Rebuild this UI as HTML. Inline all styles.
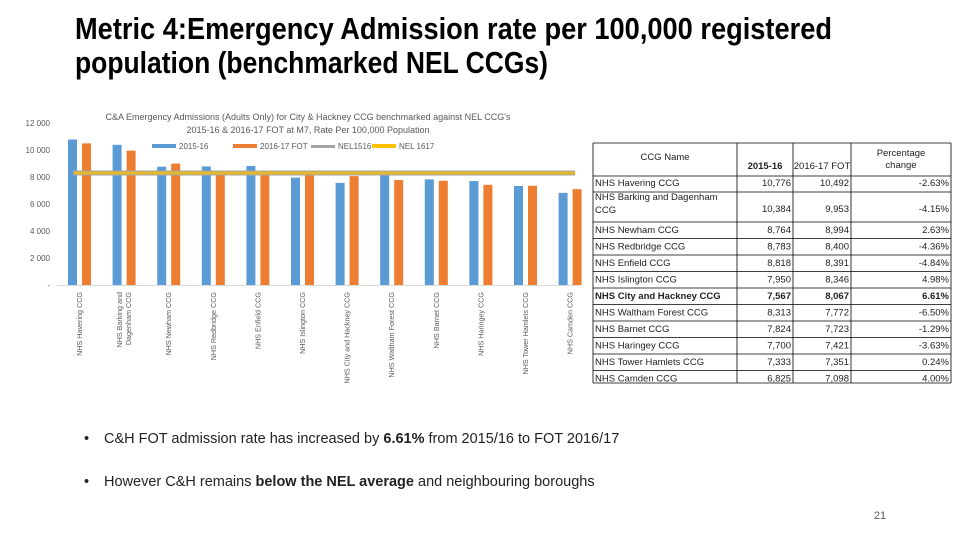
<!DOCTYPE html>
<html><head><meta charset="utf-8"><style>
html,body{margin:0;padding:0;background:#fff;}
svg{display:block;font-family:"Liberation Sans Narrow","Liberation Sans",sans-serif;}
</style></head><body>
<svg id="s" width="960" height="540" viewBox="0 0 960 540" xmlns="http://www.w3.org/2000/svg">
<text x="75" y="39" font-size="31" font-weight="bold" textLength="757" lengthAdjust="spacingAndGlyphs">Metric 4:Emergency Admission rate per 100,000 registered</text>
<text x="75" y="73" font-size="31" font-weight="bold" textLength="473" lengthAdjust="spacingAndGlyphs">population (benchmarked NEL CCGs)</text>
<text x="308" y="120" font-size="9" fill="#595959" text-anchor="middle">C&amp;A Emergency Admissions (Adults Only) for City &amp; Hackney CCG benchmarked against NEL CCG's</text>
<text x="308" y="133" font-size="9" fill="#595959" text-anchor="middle">2015-16 &amp; 2016-17 FOT at M7, Rate Per 100,000 Population</text>
<g font-size="8" fill="#595959">
<rect x="152" y="144" width="24" height="4" fill="#5b9bd5"/><text x="179" y="149">2015-16</text>
<rect x="233" y="144" width="24" height="4" fill="#ed7d31"/><text x="260" y="149">2016-17 FOT</text>
<rect x="311" y="145" width="24" height="3" fill="#a5a5a5"/><text x="338" y="149">NEL1516</text>
<rect x="372" y="144" width="24" height="4" fill="#ffc000"/><text x="399" y="149">NEL 1617</text>
</g>
<g id="chart"></g>
<g id="table"></g>
<g font-family="Liberation Sans, sans-serif" font-size="14.5" fill="#222">
<text x="84" y="443">•</text><text x="104" y="443">C&amp;H FOT admission rate has increased by <tspan font-weight="bold">6.61%</tspan> from 2015/16 to FOT 2016/17</text>
</g>
<g font-family="Liberation Sans, sans-serif" font-size="14.5" fill="#222">
<text x="84" y="486">•</text><text x="104" y="486">However C&amp;H remains <tspan font-weight="bold">below the NEL average</tspan> and neighbouring boroughs</text>
</g>
<text x="880" y="519" font-size="11" fill="#595959" text-anchor="middle">21</text>
</svg>
<script>
const categories=["NHS Havering CCG","NHS Barking and Dagenham CCG","NHS Newham CCG","NHS Redbridge CCG","NHS Enfield CCG","NHS Islington CCG","NHS City and Hackney CCG","NHS Waltham Forest CCG","NHS Barnet CCG","NHS Haringey CCG","NHS Tower Hamlets CCG","NHS Camden CCG"];
const v1516=[10776,10384,8764,8783,8818,7950,7567,8313,7824,7700,7333,6825];
const v1617=[10492,9953,8994,8400,8391,8346,8067,7772,7723,7421,7351,7098];
const pctChange=["-2.63%","-4.15%","2.63%","-4.36%","-4.84%","4.98%","6.61%","-6.50%","-1.29%","-3.63%","0.24%","4.00%"];
const nel1516=8300;
const nel1617=8300;
const yTicks=[0,2000,4000,6000,8000,10000,12000];
const yTickLabels=["-","2 000","4 000","6 000","8 000","10 000","12 000"];
const NS="http://www.w3.org/2000/svg";
const chart=document.getElementById('chart');
function y(v){return 285-v*162/12000;}
function xg(i){return 79.5+i*44.6;}
function mk(t,a,p){const e=document.createElementNS(NS,t);for(const k in a)e.setAttribute(k,a[k]);(p||chart).appendChild(e);return e;}
yTicks.forEach((t,i)=>{const e=mk('text',{x:50,y:y(t)+3,'font-size':8,fill:'#595959','text-anchor':'end'});e.textContent=yTickLabels[i];

});
const ax=mk('line',{x1:57,x2:580,y1:285.5,y2:285.5,stroke:'#d9d9d9'});


categories.forEach((c,i)=>{
 const cx=xg(i);
 const b=mk('rect',{x:cx-11.5,y:y(v1516[i]),width:9,height:285-y(v1516[i]),fill:'#5b9bd5'});
 
 
 const o=mk('rect',{x:cx+2.5,y:y(v1617[i]),width:9,height:285-y(v1617[i]),fill:'#ed7d31'});
 
 
 const lines=c==="NHS Barking and Dagenham CCG"?["NHS Barking and","Dagenham CCG"]:[c];
 lines.forEach((ln,j)=>{
  const tx=cx+2.5+(lines.length>1?(j-0.5)*9:0);
  const t=mk('text',{x:0,y:0,'font-size':7.2,fill:'#595959','text-anchor':'end',transform:`translate(${tx},292) rotate(-90)`});
  t.textContent=ln;
  
  
 });
});
const g=mk('line',{x1:xg(0)-6,x2:xg(11)+5,y1:y(nel1516),y2:y(nel1516),stroke:'#a5a5a5','stroke-width':5});


const yl=mk('line',{x1:xg(0)-6,x2:xg(11)+5,y1:y(nel1617),y2:y(nel1617),stroke:'#e6b92a','stroke-width':3});


// table
const tb=document.getElementById('table');
const X0=593,X1=737,X2=793,X3=851,X4=951;
const rowTops=[176,192,222,238.5,255,271.5,288,304.5,321,337.5,354,370.5,387];
function tl(a){const e=mk('line',Object.assign({stroke:'#000','stroke-width':0.8},a),tb);return e;}
tl({x1:X0,x2:X4,y1:143,y2:143});
[X0,X1,X2,X3,X4].forEach(x=>tl({x1:x,x2:x,y1:143,y2:383}));
rowTops.slice(0,12).forEach(t=>tl({x1:X0,x2:X4,y1:t,y2:t}));
tl({x1:X0,x2:X4,y1:383,y2:383});
function tt(x,yy,s,anchor,bold){const e=mk('text',{x:x,y:yy,'font-size':9.5,fill:'#222','text-anchor':anchor||'start','font-weight':bold?'bold':'normal'},tb);e.textContent=s;

return e;}
tt(665,160,'CCG Name','middle');
tt(765,169,'2015-16','middle',true);
tt(822,169,'2016-17 FOT','middle');
tt(901,156,'Percentage','middle');
tt(901,168,'change','middle');
const bottoms=[187,213,234,250.5,267,283.5,300,316.5,333,349.5,366,382.5];
categories.forEach((c,i)=>{
 const b=bottoms[i];const bold=i===6;
 if(i===1){tt(595,200,'NHS Barking and Dagenham');tt(595,213,'CCG');}
 else tt(595,b-1,c,'start',bold);
 tt(791,b-1,v1516[i].toLocaleString('en-GB'),'end',bold);
 tt(849,b-1,v1617[i].toLocaleString('en-GB'),'end',bold);
 tt(949,b-1,pctChange[i],'end',bold);
});
</script>
</body></html>
